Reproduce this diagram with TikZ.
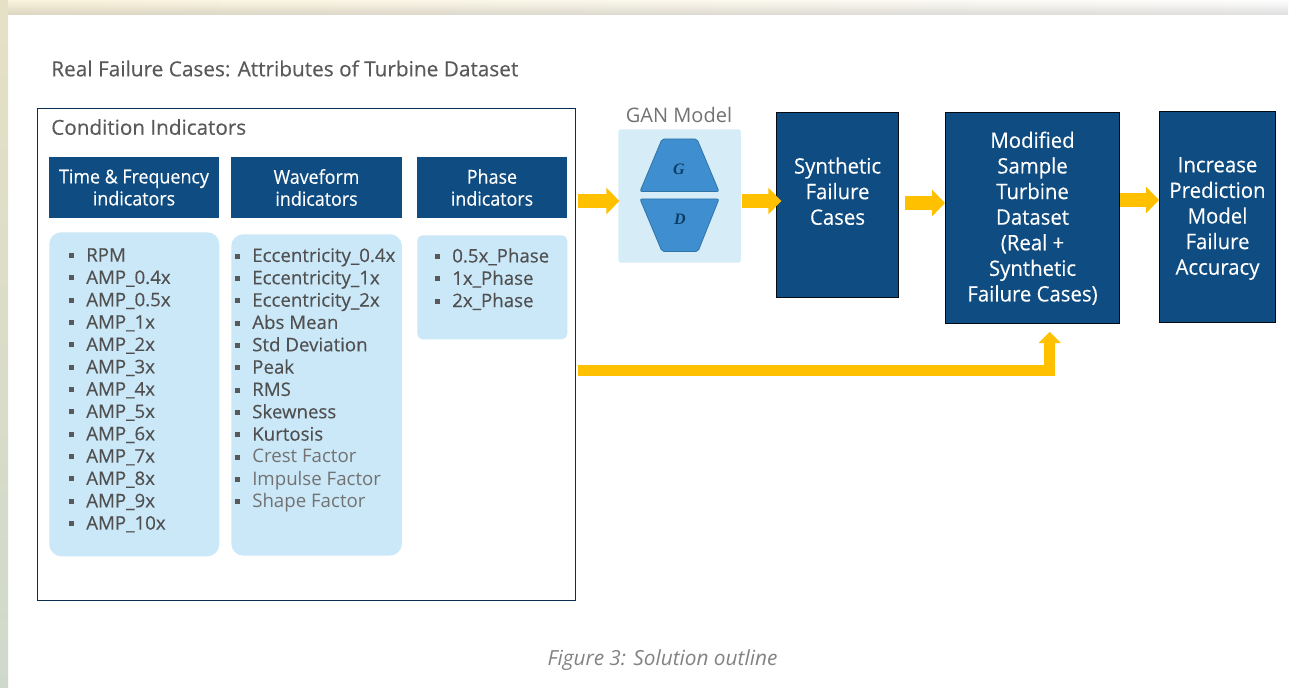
\documentclass[tikz,border=0pt]{standalone}
\usepackage{fontspec}
\setmainfont{Open Sans}
\newfontfamily\medf[FakeBold=0.25]{Open Sans}
\newfontfamily\headf[FakeBold=0.25,FakeStretch=0.93]{Open Sans}
\newfontfamily\stepf[FakeBold=0.25,FakeStretch=0.955]{Open Sans}
\newfontfamily\ganf{Liberation Serif}
\usetikzlibrary{arrows.meta,calc,fadings}
\definecolor{navy}{HTML}{0F4C81}
\definecolor{panel}{HTML}{CBE8F8}
\definecolor{ganbg}{HTML}{D6EDF7}
\definecolor{ganblue}{HTML}{3F8FD0}
\definecolor{ganedge}{HTML}{2F75A8}
\definecolor{flow}{HTML}{FFC000}
\definecolor{txt}{HTML}{595959}
\definecolor{framea}{HTML}{E6E0C6}
\definecolor{frameb}{HTML}{CFD9CB}
\definecolor{stripa}{HTML}{FAF3DC}
\definecolor{stripb}{HTML}{FBF6E3}
\definecolor{stripc}{HTML}{FDFDFD}
\tikzset{
 headbox/.style={fill=navy,text=white,align=center,inner sep=0pt,font=\headf\fontsize{14.4}{16.5}\selectfont},
 stepbox/.style={fill=navy,draw=black!85!navy,line width=.8pt,text=white,align=center,inner sep=0pt,font=\stepf\fontsize{16}{19.2}\selectfont},
 panelbox/.style={fill=panel,rounded corners=9pt,inner sep=0pt},
 listtext/.style={anchor=north west,inner sep=0pt,text=txt!90!black,align=left,font=\fontsize{14}{16.75}\selectfont},
 flowthick/.style={draw=flow,line width=10.5pt,-{Triangle[length=9.75pt,width=19.5pt]}},
 flowthin/.style={draw=flow,line width=8.25pt,-{Triangle[length=8.5pt,width=16.5pt]}},
 tz/.style={fill=ganblue,draw=ganedge,line width=.6pt,rounded corners=1.5pt},
}
\newcommand{\itm}[1]{\makebox[12.75pt][l]{\raisebox{2.6pt}{\textcolor{txt}{\rule{3.75pt}{3.75pt}}}}{\medf #1}\\}
\newcommand{\itl}[1]{\makebox[12.75pt][l]{\raisebox{2.6pt}{\textcolor{txt}{\rule{3.75pt}{3.75pt}}}}\textcolor{txt!85}{#1}\\}
\begin{document}
\begin{tikzpicture}[x=.75pt,y=-.75pt]
\useasboundingbox (0,0) rectangle (1289,688);
\fill[white] (0,0) rectangle (1289,688);
\fill[top color=framea,bottom color=frameb] (0,0) rectangle (8,688);
\fill[left color=stripa,middle color=stripb,right color=stripc] (8,0) rectangle (1289,15);
\fill[black,opacity=.12,path fading=north] (8,0) rectangle (1289,15);
\node[anchor=west,inner sep=0pt,text=txt,font=\medf\fontsize{15.6}{18}\selectfont] (title) at (51,68.5) {Real Failure Cases: Attributes of Turbine Dataset};
\node[draw=navy!60!black,fill=white,line width=.9pt,minimum width=403.5pt,minimum height=369pt,inner sep=0pt,anchor=north west] (outer) at (37,108) {};
\node[anchor=west,inner sep=0pt,text=txt,font=\medf\fontsize{15.5}{18}\selectfont] (ci) at (51,127) {Condition Indicators};
\node[headbox,minimum width=128pt,minimum height=45.5pt] (h1) at (134,187.5) {Time \& Frequency\\indicators};
\node[headbox,minimum width=128pt,minimum height=45.5pt] (h2) at (316.5,187.5) {Waveform\\indicators};
\node[headbox,minimum width=112.5pt,minimum height=45.5pt] (h3) at (492,187.5) {Phase\\indicators};
\node[panelbox,minimum width=127.5pt,minimum height=243pt,anchor=north west] (p1) at (49,232) {};
\node[panelbox,minimum width=128pt,minimum height=241pt,anchor=north west] (p2) at (231,234) {};
\node[panelbox,rounded corners=4pt,minimum width=112.5pt,minimum height=78pt,anchor=north west] (p3) at (417,235) {};
\node[listtext] (l1) at (69,248) {\itm{RPM}\itm{AMP\_0.4x}\itm{AMP\_0.5x}\itm{AMP\_1x}\itm{AMP\_2x}\itm{AMP\_3x}\itm{AMP\_4x}\itm{AMP\_5x}\itm{AMP\_6x}\itm{AMP\_7x}\itm{AMP\_8x}\itm{AMP\_9x}\itm{AMP\_10x}};
\node[listtext] (l2) at (235,248) {\itm{Eccentricity\_0.4x}\itm{Eccentricity\_1x}\itm{Eccentricity\_2x}\itm{Abs Mean}\itm{Std Deviation}\itm{Peak}\itm{RMS}\itm{Skewness}\itm{Kurtosis}\itl{Crest Factor}\itl{Impulse Factor}\itl{Shape Factor}};
\node[listtext] (l3) at (435,248) {\itm{0.5x\_Phase}\itm{1x\_Phase}\itm{2x\_Phase}};
\node[inner sep=0pt,text=txt!85,font=\fontsize{15}{18}\selectfont] (gant) at (679,115.5) {GAN Model};
\node[fill=ganbg,rounded corners=2pt,minimum width=92pt,minimum height=100pt,inner sep=0pt,anchor=north west] (gan) at (618,129) {};
\draw[tz] (662,139) -- (697,139) -- (719,191.5) -- (640,191.5) -- cycle;
\draw[tz] (640,199) -- (719,199) -- (698,251.5) -- (662,251.5) -- cycle;
\node[inner sep=0pt,text=navy!80!black,font=\ganf\fontsize{12}{13}\selectfont\bfseries\itshape] (g) at (679,169) {G};
\node[inner sep=0pt,text=navy!80!black,font=\ganf\fontsize{12}{13}\selectfont\bfseries\itshape] (d) at (680,219) {D};
\node[stepbox,minimum width=91.5pt,minimum height=138.5pt,anchor=north west] (syn) at (776,112) {Synthetic\\Failure\\Cases\\[1.5pt]};
\node[stepbox,minimum width=130.5pt,minimum height=158.5pt,anchor=north west] (mod) at (945,112) {Modified\\Sample\\Turbine\\Dataset\\(Real +\\Synthetic\\Failure Cases)};
\node[stepbox,minimum width=87pt,minimum height=158pt,anchor=north west] (inc) at (1159,111) {\rule{0pt}{13.8pt}Increase\\Prediction\\Model\\Failure\\Accuracy};
\coordinate (ya) at (0,201);
\coordinate (yb) at (0,203);
\coordinate (yc) at (0,200);
\coordinate (yd) at (0,370);
\coordinate (xd) at (1049.8,0);
\draw[flowthick] (outer.east |- ya) ++(2,0) -- ([xshift=1pt]gan.west |- ya);
\draw[flowthick] (gan.east |- ya) ++(1,0) -- ([xshift=4pt]syn.west |- ya);
\draw[flowthick] (syn.east |- yb) ++(6,0) -- (mod.west |- yb);
\draw[flowthick] (mod.east |- yc) -- (inc.west |- yc);
\draw[flowthin] (outer.east |- yd) ++(2,0) -| ([yshift=-5.6pt]xd |- mod.south);
\node[inner sep=0pt,text=txt!75,font=\fontsize{15.6}{17}\selectfont\itshape] (cap) at (662.5,660) {Figure 3: Solution outline};
\end{tikzpicture}
\end{document}
